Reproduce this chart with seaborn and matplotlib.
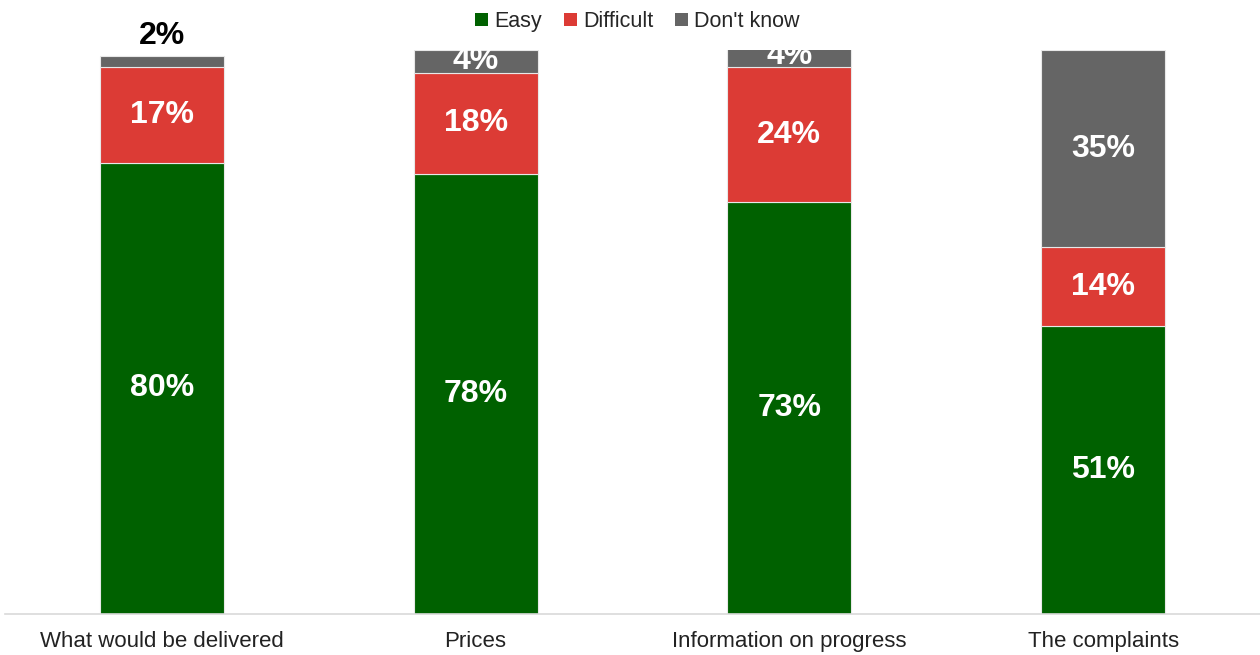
import matplotlib
matplotlib.use("Agg")
import matplotlib.pyplot as plt
from matplotlib.patches import Patch
import numpy as np
import pandas as pd
import seaborn as sns

categories = ["What would be delivered", "Prices", "Information on progress", "The complaints"]
easy = [80, 78, 73, 51]
difficult = [17, 18, 24, 14]
dont_know = [2, 4, 4, 35]
series_names = ["Easy", "Difficult", "Don't know"]
colors = ["#006100", "#DC3B35", "#656565"]

sns.set_theme(style="white")
plt.rcParams["font.family"] = ["Liberation Sans", "DejaVu Sans"]

df = pd.DataFrame({"category": categories, "Easy": easy,
                   "Difficult": difficult, "Don't know": dont_know})

fig = plt.figure(figsize=(12.6, 6.55), dpi=100)
ax = fig.add_axes([5 / 1260, 41 / 655, 1255 / 1260, (614 - 50) / 655])

bottom = np.zeros(len(categories))
for name, color in zip(series_names, colors):
    vals = df[name].to_numpy(dtype=float)
    sns.barplot(data=df, x="category", y=name, color=color, width=0.395,
                bottom=bottom, edgecolor="#e8e8e8", linewidth=0.8,
                saturation=1, ax=ax)
    for i, v in enumerate(vals):
        if v >= 3:
            ax.text(i, bottom[i] + v / 2, f"{v:.0f}%", ha="center", va="center",
                    color="white", fontsize=23, fontweight="bold")
        else:
            ax.text(i, bottom[i] + v + 0.8, f"{v:.0f}%", ha="center", va="bottom",
                    color="black", fontsize=23, fontweight="bold")
    bottom += vals

ax.set_ylim(0, 100)
ax.set_xlim(-0.5, 3.5)
ax.set_xlabel("")
ax.set_ylabel("")
ax.set_yticks([])
ax.tick_params(axis="x", length=0, pad=12, labelsize=16, colors="#222222")
for side in ["left", "right", "top"]:
    ax.spines[side].set_visible(False)
ax.spines["bottom"].set_color("#d9d9d9")
ax.spines["bottom"].set_linewidth(1.2)

handles = [Patch(facecolor=c, edgecolor="none", label=n) for n, c in zip(series_names, colors)]
fig.legend(handles=handles, loc="center", bbox_to_anchor=(0.506, 0.967), ncol=3,
           frameon=False, fontsize=15.5, handlelength=0.6, handleheight=0.6,
           handletextpad=0.3, columnspacing=1.0)

fig.savefig("out.png", dpi=100)
